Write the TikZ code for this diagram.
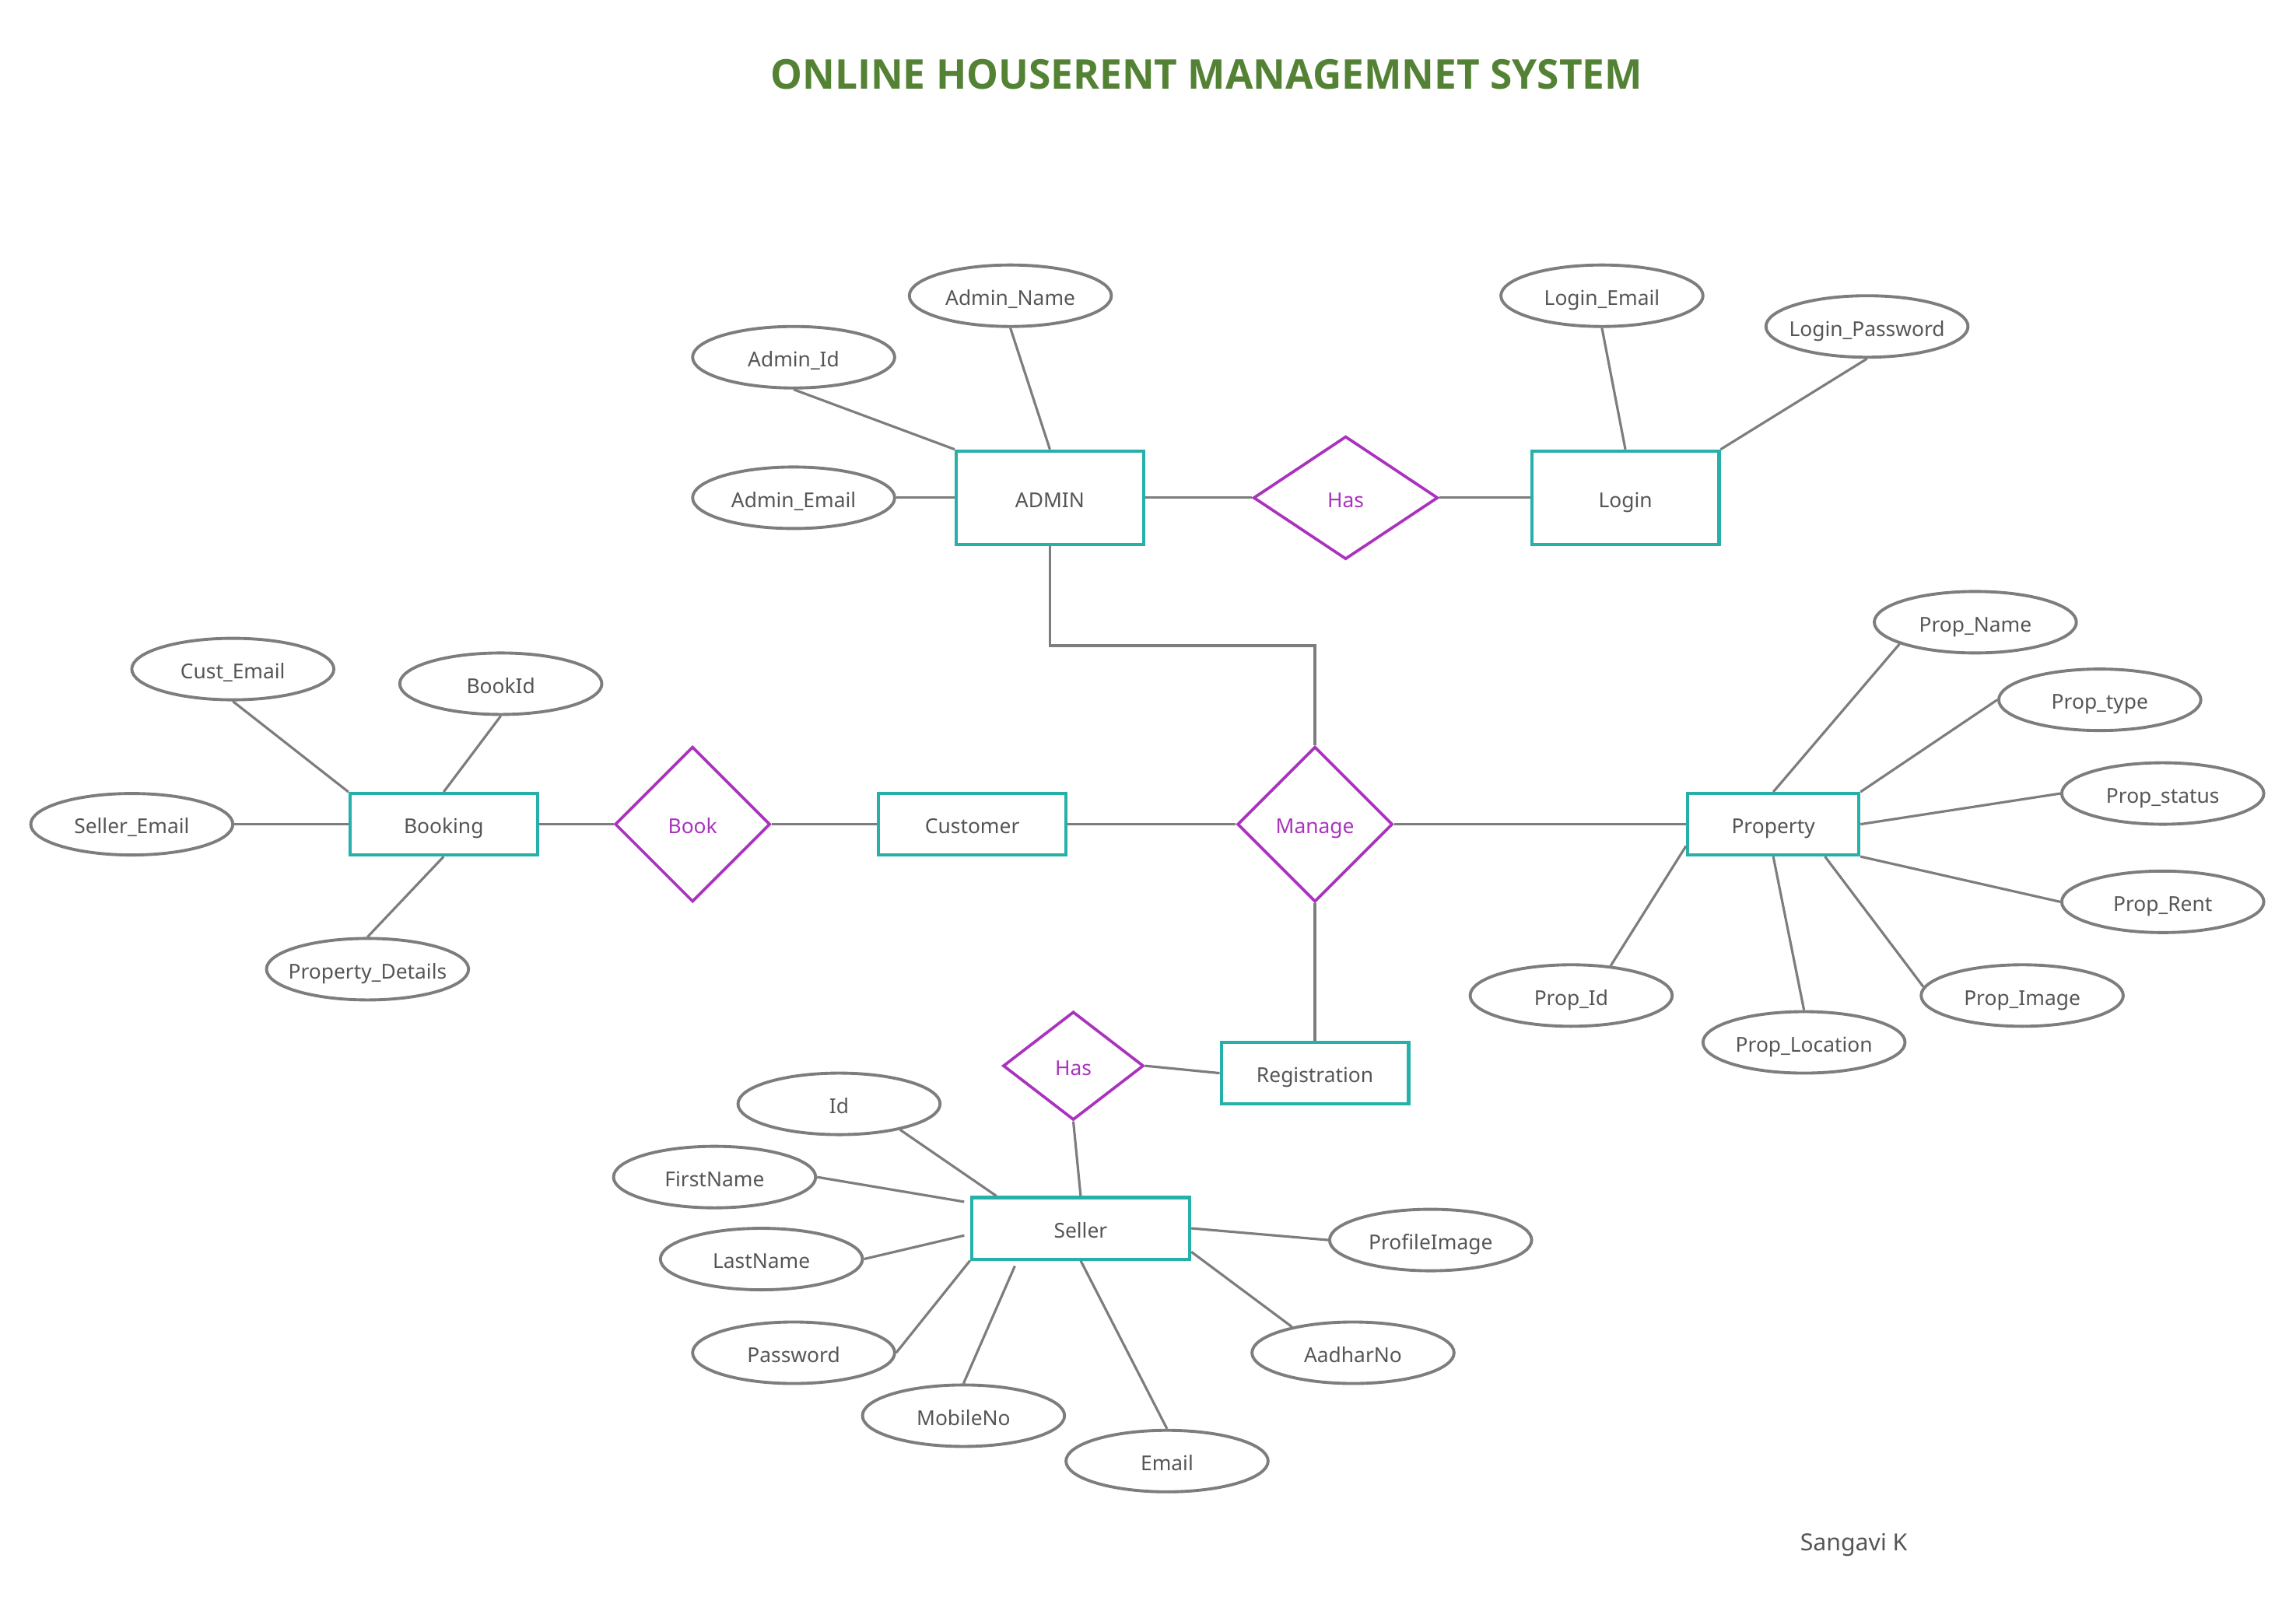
\documentclass[tikz,border=0pt]{standalone}
\usepackage{fontspec}
\setmainfont{Noto Sans}
\newfontfamily\titlefont{Open Sans}
\usetikzlibrary{shapes.geometric}
\definecolor{teal1}{RGB}{38,176,170}
\definecolor{purp1}{RGB}{170,50,190}
\definecolor{gray1}{RGB}{125,125,125}
\definecolor{txt1}{RGB}{85,85,85}
\definecolor{green1}{RGB}{84,130,53}
\newcommand\uu{0.01882cm}
\tikzset{
  lbl/.style={font=\fontsize{7.5pt}{8pt}\selectfont, text height=0.75em, text depth=0.05em},
  attr/.style={lbl, ellipse, draw=gray1, line width=1.1pt, minimum width=138*\uu, minimum height=42*\uu, inner sep=0pt, text=txt1,
    execute at begin node={\hbox to 0pt\bgroup\hss}, execute at end node={\hss\egroup}},
  ent/.style={lbl, rectangle, draw=teal1, line width=1.15pt, minimum width=128*\uu, minimum height=42*\uu, inner sep=0pt, text=txt1},
  rel/.style={lbl, diamond, draw=purp1, line width=1.05pt, minimum width=106*\uu, minimum height=106*\uu, inner sep=0pt, text=purp1},
  conn/.style={draw=gray1, line width=0.9pt},
}
\begin{document}
\begin{tikzpicture}[x=\uu, y=-\uu]
\useasboundingbox (0,0) rectangle (1568,1105);
\node[font=\titlefont\bfseries\fontsize{15pt}{18pt}\selectfont, text=green1, xscale=0.975] (title) at (824,51) {ONLINE HOUSERENT MANAGEMNET SYSTEM};
\node[text=txt1, font=\fontsize{8.6pt}{10pt}\selectfont] (author) at (1266,1055) {Sangavi K};
% entities
\node[ent, minimum height=64*\uu] (admin) at (717,340) {ADMIN};
\node[ent, minimum height=64*\uu] (login) at (1110,340) {Login};
\node[ent] (booking) at (303,563) {Booking};
\node[ent] (customer) at (664,563) {Customer};
\node[ent, minimum width=117*\uu] (property) at (1211,563) {Property};
\node[ent] (registration) at (898,733) {Registration};
\node[ent, minimum width=149*\uu] (seller) at (738,839) {Seller};
% relationships
\node[rel, minimum width=126*\uu, minimum height=84*\uu] (has1) at (919,340) {Has};
\node[rel] (book) at (473,563) {Book};
\node[rel] (manage) at (898,563) {Manage};
\node[rel, minimum width=96*\uu, minimum height=74*\uu] (has2) at (733,728) {Has};
% attributes
\node[attr] (adminname) at (690,202) {Admin\_Name};
\node[attr] (adminid) at (542,244) {Admin\_Id};
\node[attr] (adminemail) at (542,340) {Admin\_Email};
\node[attr] (loginemail) at (1094,202) {Login\_Email};
\node[attr] (loginpw) at (1275,223) {Login\_Password};
\node[attr] (propname) at (1349,425) {Prop\_Name};
\node[attr] (proptype) at (1434,478) {Prop\_type};
\node[attr] (propstatus) at (1477,542) {Prop\_status};
\node[attr] (proprent) at (1477,616) {Prop\_Rent};
\node[attr] (propimage) at (1381,680) {Prop\_Image};
\node[attr] (proploc) at (1232,712) {Prop\_Location};
\node[attr] (propid) at (1073,680) {Prop\_Id};
\node[attr] (custemail) at (159,457) {Cust\_Email};
\node[attr] (bookid) at (342,467) {BookId};
\node[attr] (selleremail) at (90,563) {Seller\_Email};
\node[attr] (propdetails) at (251,662) {Property\_Details};
\node[attr] (sid) at (573,754) {Id};
\node[attr] (firstname) at (488,804) {FirstName};
\node[attr] (lastname) at (520,860) {LastName};
\node[attr] (password) at (542,924) {Password};
\node[attr] (mobileno) at (658,967) {MobileNo};
\node[attr] (email) at (797,998) {Email};
\node[attr] (profileimage) at (977,847) {ProfileImage};
\node[attr] (aadhar) at (924,924) {AadharNo};
\coordinate (elbow) at (898,441);
% connectors
\draw[conn] (adminid.south) -- (admin.north west);
\draw[conn] (adminname.south) -- (admin.north);
\draw[conn] (adminemail.east) -- (admin.west);
\draw[conn] (admin.east) -- (has1.west);
\draw[conn] (has1.east) -- (login.west);
\draw[conn] (loginemail.south) -- (login.north);
\draw[conn] (loginpw.south) -- (login.north east);
\draw[conn] (admin.south) |- (elbow) -- (manage.north);
\draw[conn] (customer.east) -- (manage.west);
\draw[conn] (manage.east) -- (property.west);
\draw[conn] (manage.south) -- (registration.north);
\draw[conn] (booking.east) -- (book.west);
\draw[conn] (book.east) -- (customer.west);
\draw[conn] (custemail.south) -- (booking.north west);
\draw[conn] (bookid.south) -- (booking.north);
\draw[conn] (selleremail.east) -- (booking.west);
\draw[conn] (booking.south) -- (propdetails.north);
\draw[conn] (propname.196) -- (property.north);
\draw[conn] (proptype.west) -- (property.north east);
\draw[conn] (propstatus.west) -- (property.east);
\draw[conn] (proprent.west) -- (property.south east);
\draw[conn] (propimage.175) -- (property.-32);
\draw[conn] (proploc.north) -- (property.south);
\draw[conn] (propid.37) -- (property.194);
\draw[conn] (registration.west) -- (has2.east);
\draw[conn] (has2.south) -- (seller.north);
\draw[conn] (sid.-23) -- (seller.159);
\draw[conn, shorten >=4*\uu] (firstname.east) -- (seller.167);
\draw[conn, shorten >=4*\uu] (lastname.east) -- (seller.183);
\draw[conn] (password.east) -- (seller.south west);
\draw[conn, shorten >=4*\uu] (mobileno.north) -- (seller.207);
\draw[conn] (email.north) -- (seller.south);
\draw[conn] (profileimage.west) -- (seller.east);
\draw[conn] (aadhar.157) -- (seller.-12);
\end{tikzpicture}
\end{document}
